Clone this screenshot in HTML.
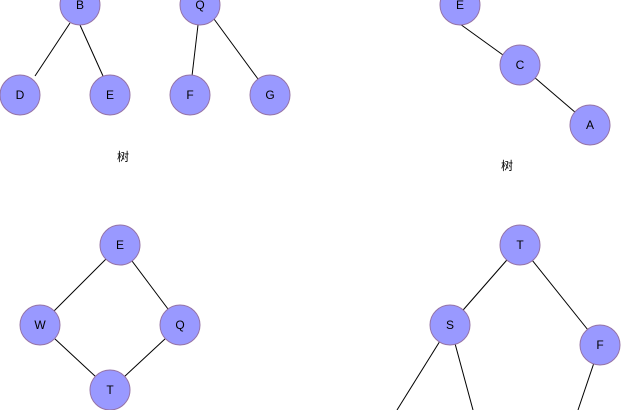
<!DOCTYPE html>
<html><head><style>html,body{margin:0;padding:0;background:#fff;}svg{display:block;}</style></head><body>
<svg width="621" height="410" xmlns="http://www.w3.org/2000/svg" font-family="Liberation Sans, Noto Sans CJK SC, sans-serif" font-size="12">
<g stroke="#000" stroke-width="1">
<line x1="70" y1="23" x2="35" y2="76"/><line x1="80" y1="25" x2="103" y2="76"/>
<line x1="198" y1="25" x2="192" y2="76"/><line x1="214" y1="19" x2="258" y2="79"/>
<line x1="460" y1="24" x2="503" y2="55"/><line x1="520" y1="65" x2="590" y2="125"/>
<line x1="120" y1="245" x2="40" y2="325"/><line x1="120" y1="245" x2="180" y2="325"/>
<line x1="40" y1="325" x2="110" y2="390"/><line x1="180" y1="325" x2="110" y2="390"/>
<line x1="520" y1="245" x2="450" y2="325"/><line x1="520" y1="245" x2="600" y2="345"/>
<line x1="450" y1="325" x2="397" y2="410"/><line x1="450" y1="325" x2="473" y2="410"/>
<line x1="600" y1="345" x2="578" y2="410"/>
</g>
<g fill="#9999ff" stroke="#9673a6" stroke-width="1">
<circle cx="80" cy="5" r="20"/><circle cx="200" cy="5" r="20"/>
<circle cx="20" cy="95" r="20"/><circle cx="110" cy="95" r="20"/>
<circle cx="190" cy="95" r="20"/><circle cx="270" cy="95" r="20"/>
<circle cx="460" cy="5" r="20"/><circle cx="520" cy="65" r="20"/><circle cx="590" cy="125" r="20"/>
<circle cx="120" cy="245" r="20"/><circle cx="40" cy="325" r="20"/><circle cx="180" cy="325" r="20"/><circle cx="110" cy="390" r="20"/>
<circle cx="520" cy="245" r="20"/><circle cx="450" cy="325" r="20"/><circle cx="600" cy="345" r="20"/>
</g>
<g fill="#000" text-anchor="middle">
<text x="80" y="9">B</text><text x="200" y="9">Q</text>
<text x="20" y="99">D</text><text x="110" y="99">E</text>
<text x="190" y="99">F</text><text x="270" y="99">G</text>
<text x="460" y="9">E</text><text x="520" y="69">C</text><text x="590" y="129">A</text>
<text x="120" y="249">E</text><text x="40" y="329">W</text><text x="180" y="329">Q</text><text x="110" y="394">T</text>
<text x="520" y="249">T</text><text x="450" y="329">S</text><text x="600" y="349">F</text>
<text x="123" y="161">树</text><text x="507" y="170">树</text>
</g>
</svg>
</body></html>
